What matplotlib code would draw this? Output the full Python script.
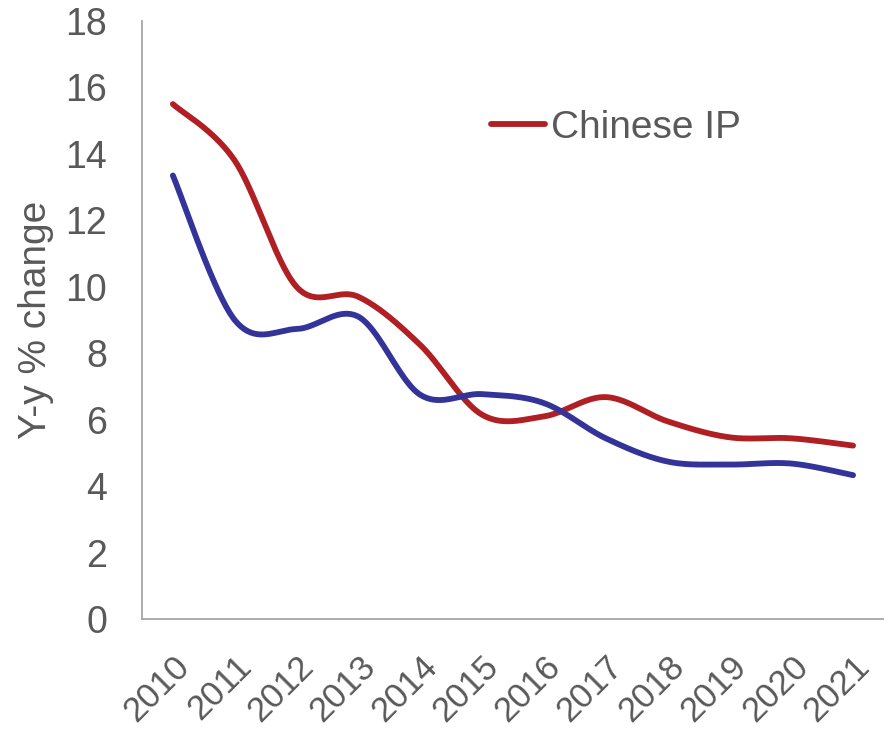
import numpy as np
import matplotlib
matplotlib.use("Agg")
from matplotlib import pyplot as plt

# Data
years = ["2010", "2011", "2012", "2013", "2014", "2015",
         "2016", "2017", "2018", "2019", "2020", "2021"]
chinese_ip = [15.5, 13.8, 10.0, 9.7, 8.25, 6.15, 6.1, 6.68, 5.95, 5.47, 5.44, 5.22]
other = [13.35, 9.0, 8.73, 9.1, 6.75, 6.77, 6.5, 5.44, 4.74, 4.65, 4.68, 4.33]

RED = "#B01F24"
BLUE = "#333399"
GREY = "#595959"


# Smooth curve through the points, like Excel's "smoothed line"
def smooth(xs, ys, n=40):
    xs = np.asarray(xs, float)
    ys = np.asarray(ys, float)
    px = np.concatenate([[xs[0]], xs, [xs[-1]]])
    py = np.concatenate([[ys[0]], ys, [ys[-1]]])
    out_x, out_y = [], []
    t = np.linspace(0, 1, n)
    for i in range(1, len(px) - 2):
        p0, p1, p2, p3 = px[i - 1], px[i], px[i + 1], px[i + 2]
        q0, q1, q2, q3 = py[i - 1], py[i], py[i + 1], py[i + 2]
        # bezier control points
        c1x, c2x = p1 + (p2 - p0) / 6, p2 - (p3 - p1) / 6
        c1y, c2y = q1 + (q2 - q0) / 6, q2 - (q3 - q1) / 6
        bx = (1-t)**3*p1 + 3*(1-t)**2*t*c1x + 3*(1-t)*t**2*c2x + t**3*p2
        by = (1-t)**3*q1 + 3*(1-t)**2*t*c1y + 3*(1-t)*t**2*c2y + t**3*q2
        out_x.extend(bx)
        out_y.extend(by)
    return np.array(out_x), np.array(out_y)


plt.rcParams['font.family'] = ['Liberation Sans', 'DejaVu Sans']

fig = plt.figure(figsize=(8.84, 7.31), dpi=100)
ax = fig.add_axes([0.1606, 0.1532, 0.8394, 0.818])

x = np.arange(len(years))
sx, sy = smooth(x, chinese_ip)
ax.plot(sx, sy, color=RED, lw=4.2, solid_capstyle='round', label="Chinese IP")
sx, sy = smooth(x, other)
ax.plot(sx, sy, color=BLUE, lw=4.2, solid_capstyle='round')

ax.set_xlim(-0.5, len(years) - 0.5)
ax.set_ylim(0, 18)
ax.set_yticks(range(0, 19, 2))
ax.set_xticks(x)
ax.set_xticklabels(years, rotation=45, ha='right', va='top', rotation_mode='anchor')

ax.tick_params(axis='both', length=0, labelsize=27, colors=GREY)
ax.tick_params(axis='x', pad=22, labelsize=25)
ax.tick_params(axis='y', pad=25)
for s in ['top', 'right']:
    ax.spines[s].set_visible(False)
for s in ['left', 'bottom']:
    ax.spines[s].set_color("#A6A6A6")
    ax.spines[s].set_linewidth(1.3)

ax.set_ylabel("Y-y % change", fontsize=28, color=GREY, labelpad=8)

ax.legend(loc='center left', bbox_to_anchor=(0.423, 0.821), frameon=False,
          fontsize=28, labelcolor=GREY, handlelength=1.4, handletextpad=0.15)

fig.savefig("out.png", dpi=100)
